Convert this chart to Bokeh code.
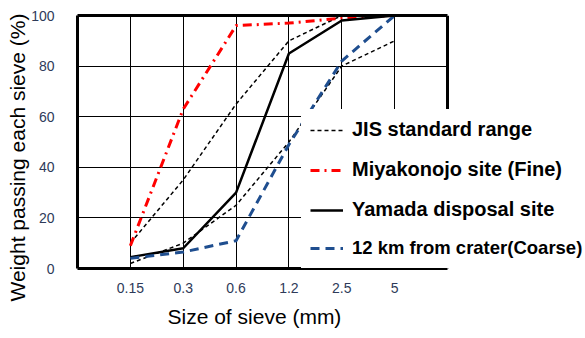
from bokeh.plotting import figure
from bokeh.models import (Range1d, FixedTicker, Legend, LegendItem, LinearAxis,
                          BoxAnnotation, Span, Title)
from bokeh.embed import file_html
from bokeh.resources import INLINE

# ---- data ----
sieve_labels = ["0.15", "0.3", "0.6", "1.2", "2.5", "5"]
jis_upper = [10, 35, 65, 90, 100, 100]
jis_lower = [2, 10, 25, 50, 80, 90]
miyakonojo = [9, 63, 96, 97, 99, 100]
yamada = [4.5, 8, 30, 85, 98, 100]
coarse = [4, 6.5, 11, 49, 82, 100]
y_ticks = [0, 20, 40, 60, 80, 100]

xs = list(range(len(sieve_labels)))
n = len(sieve_labels)

W, H = 585, 338
LEFT, TOP, BOTTOM = 77, 15, 69
unit_px = 370 / (n + 1)            # pixels per category step in the drawn box
frame_w = W - LEFT
x_end = -1 + frame_w / unit_px     # frame extended to the right for the legend

p = figure(width=W, height=H, output_backend="svg", toolbar_location=None,
           x_range=Range1d(-1, x_end), y_range=Range1d(0, 100),
           min_border_left=LEFT, min_border_right=0, min_border_top=TOP,
           min_border_bottom=BOTTOM)

p.outline_line_color = None
p.background_fill_color = "white"
p.border_fill_color = "white"

# axes
p.xaxis.ticker = FixedTicker(ticks=xs)
p.xaxis.major_label_overrides = {i: s for i, s in zip(xs, sieve_labels)}
p.yaxis.ticker = FixedTicker(ticks=y_ticks)
for ax in (p.xaxis[0], p.yaxis[0]):
    ax.axis_line_color = "black"
    ax.axis_line_width = 3
    ax.major_tick_line_color = None
    ax.minor_tick_line_color = None
    ax.major_label_text_font = "Liberation Sans"
    ax.major_label_text_font_size = "14px"
    ax.major_label_text_color = "#2E3A59"
p.xaxis.bounds = (-1, n)
p.xaxis.major_label_standoff = 8
p.yaxis.major_label_standoff = 17

top_axis = LinearAxis(ticker=FixedTicker(ticks=[]), bounds=(-1, n),
                      axis_line_color="black", axis_line_width=3,
                      major_tick_line_color=None, minor_tick_line_color=None,
                      major_label_text_font_size="0px")
p.add_layout(top_axis, "above")

p.add_layout(Title(text="Weight passing each sieve (%)", align="left",
                   text_font="Liberation Sans", text_font_size="21px",
                   text_font_style="normal", text_color="black",
                   standoff=0, offset=-33), "left")
p.add_layout(Title(text="Size of sieve (mm)", align="left",
                   vertical_align="top",
                   text_font="Liberation Sans", text_font_size="21px",
                   text_font_style="normal", text_color="black",
                   standoff=18, offset=90), "below")

p.xgrid.ticker = FixedTicker(ticks=xs)
p.ygrid.ticker = FixedTicker(ticks=y_ticks[1:-1])
for g in (p.xgrid[0], p.ygrid[0]):
    g.grid_line_color = "black"
    g.grid_line_width = 1
    g.grid_line_alpha = 1

# lines
r_up = p.line(xs, jis_upper, line_color="black", line_width=1.5, line_dash="4 3")
r_lo = p.line(xs, jis_lower, line_color="black", line_width=1.5, line_dash="4 3")
r_miy = p.line(xs, miyakonojo, line_color="#FF0000", line_width=3, line_dash="9 5 2 5")
r_yam = p.line(xs, yamada, line_color="black", line_width=2.5)
r_coa = p.line(xs, coarse, line_color="#1F4E8F", line_width=3, line_dash="9 6")

# blank the area right of the chart box, then draw its right border
p.add_layout(BoxAnnotation(left=n, fill_color="white", fill_alpha=1,
                           line_alpha=0))
p.add_layout(Span(location=n, dimension="height", line_color="black",
                  line_width=3))

common = dict(margin=0, padding=9, spacing=17, glyph_width=33, glyph_height=20,
              label_height=20, label_standoff=9, border_line_alpha=0,
              background_fill_color="white", background_fill_alpha=1,
              label_text_font="Liberation Sans", label_text_font_style="bold",
              label_text_color="black")

leg_a = Legend(items=[LegendItem(label="JIS standard range", renderers=[r_up]),
                      LegendItem(label="Miyakonojo site (Fine)", renderers=[r_miy]),
                      LegendItem(label="Yamada disposal site", renderers=[r_yam])],
               location=(224, 38), label_text_font_size="20px", **common)
leg_b = Legend(items=[LegendItem(label="12 km from crater(Coarse)", renderers=[r_coa])],
               location=(224, 0), label_text_font_size="18.5px", **common)
p.add_layout(leg_a, "center")
p.add_layout(leg_b, "center")

open("out.html", "w").write(file_html(p, INLINE))
